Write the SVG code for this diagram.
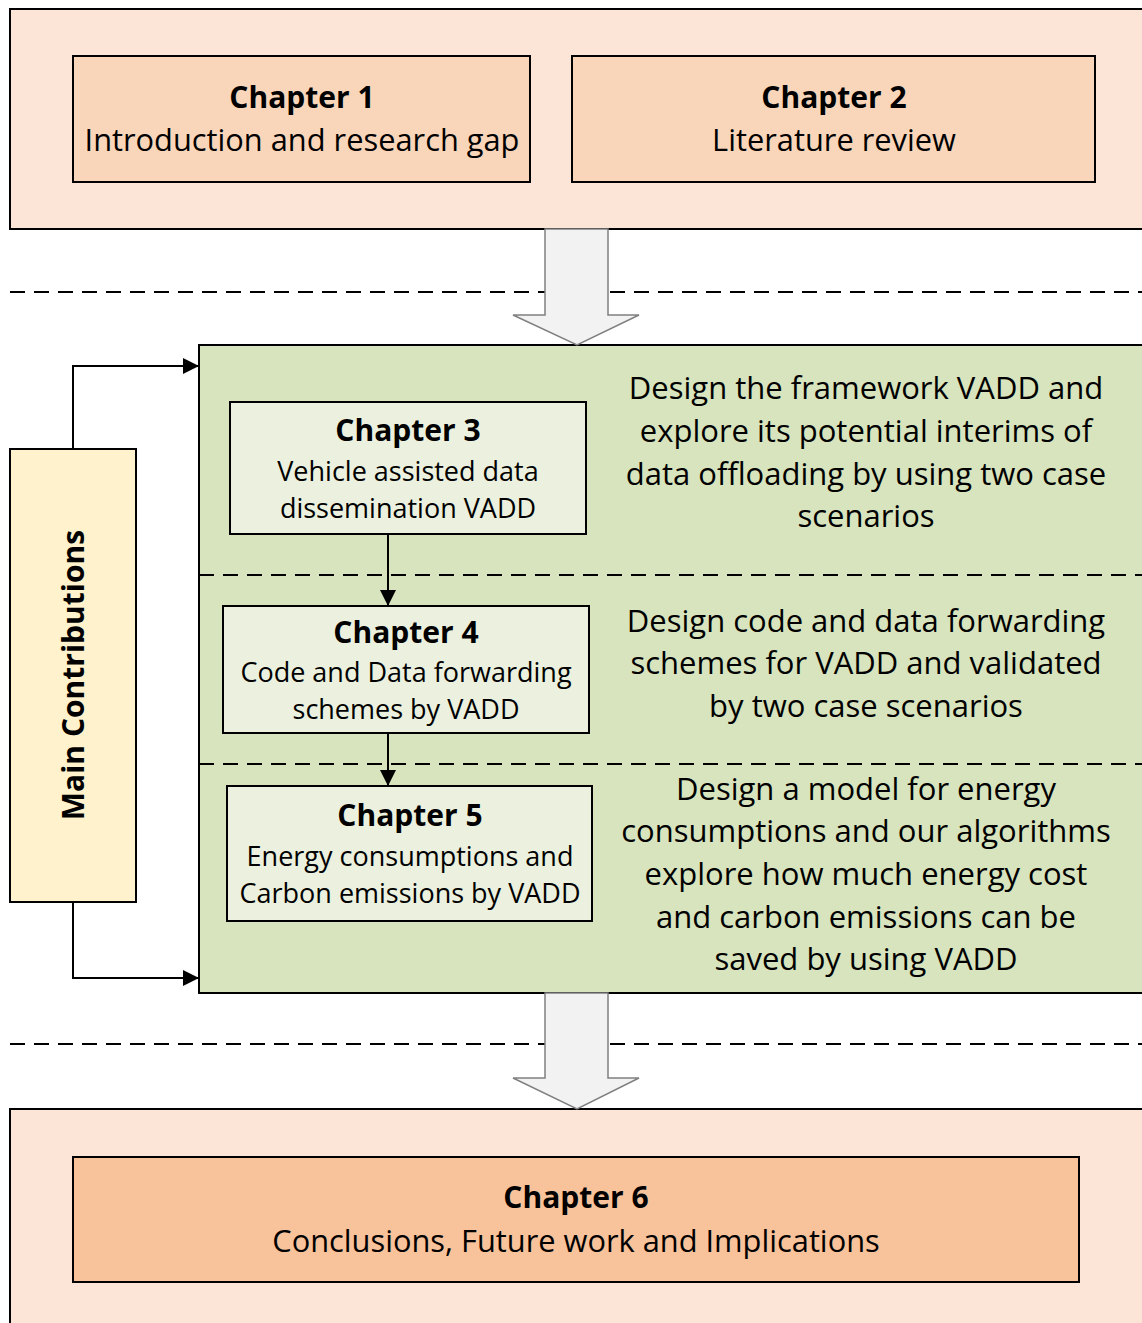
<svg xmlns="http://www.w3.org/2000/svg" width="1142" height="1323" viewBox="0 0 1142 1323">
  <style>
    text { font-family: "Open Sans", "Liberation Sans", sans-serif; fill: #000; text-anchor: middle; }
    .h { font-weight: bold; font-size: 30px; }
    .b { font-size: 30.8px; }
    .s { font-size: 27px; }
    .d { font-size: 31px; }
    .edge { stroke: #000; stroke-width: 2; }
    .dash { stroke: #000; stroke-width: 2; stroke-dasharray: 15 9; fill: none; }
    .big { fill: #F2F2F2; stroke: #808080; stroke-width: 1.5; }
    .link { stroke: #000; stroke-width: 2; fill: none; }
  </style>
  <defs>
    <marker id="tri" viewBox="0 0 10 10" refX="10" refY="5" markerWidth="16" markerHeight="16" markerUnits="userSpaceOnUse" orient="auto">
      <path d="M0,0 L10,5 L0,10 Z" fill="#000"/>
    </marker>
  </defs>

  <rect width="1142" height="1323" fill="#FFFFFF"/>

  <!-- section separators -->
  <g id="separators">
    <line class="dash" x1="10" y1="292" x2="1142" y2="292"/>
    <line class="dash" x1="10" y1="1044" x2="1142" y2="1044"/>
  </g>

  <!-- top panel: background chapters -->
  <g id="panel-top">
    <rect class="edge" x="10" y="9" width="1140" height="220" fill="#FCE4D6"/>
  </g>
  <g id="ch1">
    <rect class="edge" x="73" y="56" width="457" height="126" fill="#F9D6BA"/>
    <text class="h" x="302" y="108">Chapter 1</text>
    <text class="b" x="302" y="151">Introduction and research gap</text>
  </g>
  <g id="ch2">
    <rect class="edge" x="572" y="56" width="523" height="126" fill="#F9D6BA"/>
    <text class="h" x="834" y="108">Chapter 2</text>
    <text class="b" x="834" y="151">Literature review</text>
  </g>

  <!-- middle panel: contributions -->
  <g id="panel-mid">
    <rect class="edge" x="199" y="345" width="950" height="648" fill="#D7E4BD"/>
    <line class="dash" x1="199" y1="575" x2="1142" y2="575"/>
    <line class="dash" x1="199" y1="764" x2="1142" y2="764"/>
  </g>

  <g id="main-contributions">
    <rect class="edge" x="10" y="449" width="126" height="453" fill="#FFF2CC"/>
    <text class="h" transform="translate(84,675) rotate(-90)">Main Contributions</text>
  </g>

  <g id="ch3">
    <rect class="edge" x="230" y="402" width="356" height="132" fill="#EBF1DE"/>
    <text class="h" x="408" y="441">Chapter 3</text>
    <text class="s" x="408" y="481">Vehicle assisted data</text>
    <text class="s" x="408" y="518">dissemination VADD</text>
  </g>
  <g id="ch4">
    <rect class="edge" x="223" y="606" width="366" height="127" fill="#EBF1DE"/>
    <text class="h" x="406" y="643">Chapter 4</text>
    <text class="s" x="406" y="682">Code and Data forwarding</text>
    <text class="s" x="406" y="719">schemes by VADD</text>
  </g>
  <g id="ch5">
    <rect class="edge" x="227" y="786" width="365" height="135" fill="#EBF1DE"/>
    <text class="h" x="410" y="826">Chapter 5</text>
    <text class="s" x="410" y="866">Energy consumptions and</text>
    <text class="s" x="410" y="903">Carbon emissions by VADD</text>
  </g>

  <g id="desc3">
    <text class="d" x="866" y="399">Design the framework VADD and</text>
    <text class="d" x="866" y="442">explore its potential interims of</text>
    <text class="d" x="866" y="485">data offloading by using two case</text>
    <text class="d" x="866" y="527">scenarios</text>
  </g>
  <g id="desc4">
    <text class="d" x="866" y="632">Design code and data forwarding</text>
    <text class="d" x="866" y="674">schemes for VADD and validated</text>
    <text class="d" x="866" y="717">by two case scenarios</text>
  </g>
  <g id="desc5">
    <text class="d" x="866" y="800">Design a model for energy</text>
    <text class="d" x="866" y="842">consumptions and our algorithms</text>
    <text class="d" x="866" y="885">explore how much energy cost</text>
    <text class="d" x="866" y="928">and carbon emissions can be</text>
    <text class="d" x="866" y="970">saved by using VADD</text>
  </g>

  <!-- bottom panel -->
  <g id="panel-bottom">
    <rect class="edge" x="10" y="1109" width="1140" height="230" fill="#FCE4D6"/>
  </g>
  <g id="ch6">
    <rect class="edge" x="73" y="1157" width="1006" height="125" fill="#F8C29A"/>
    <text class="h" x="576" y="1208">Chapter 6</text>
    <text class="b" x="576" y="1252">Conclusions, Future work and Implications</text>
  </g>

  <!-- connectors -->
  <g id="connectors">
    <path class="big" d="M545,229 L608,229 L608,315 L639,315 L577,345 L513,315 L545,315 Z"/>
    <path class="big" d="M545,993 L608,993 L608,1078 L639,1078 L577,1109 L513,1078 L545,1078 Z"/>
    <path class="link" d="M73,449 L73,366 L199,366" marker-end="url(#tri)"/>
    <path class="link" d="M73,902 L73,978 L199,978" marker-end="url(#tri)"/>
    <line class="link" x1="388" y1="535" x2="388" y2="606" marker-end="url(#tri)"/>
    <line class="link" x1="388" y1="733" x2="388" y2="786" marker-end="url(#tri)"/>
  </g>
</svg>
